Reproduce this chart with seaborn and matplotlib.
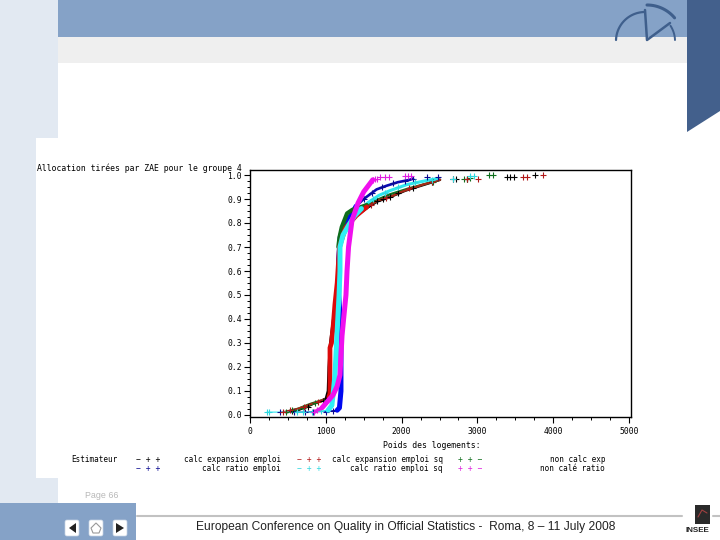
import matplotlib
matplotlib.use("Agg")
import matplotlib.pyplot as plt
from matplotlib.patches import Rectangle, Polygon, FancyBboxPatch
from matplotlib.ticker import MultipleLocator, FormatStrFormatter
import numpy as np
import pandas as pd
import seaborn as sns

# ---- data ----------------------------------------------------------------
title_text = "Allocation tirées par ZAE pour le groupe 4"
xlabel_text = "Poids des logements:"
x_ticks = [0, 1000, 2000, 3000, 4000, 5000]
y_ticks = [0.0, 0.1, 0.2, 0.3, 0.4, 0.5, 0.6, 0.7, 0.8, 0.9, 1.0]

# thick, densely overplotted part of each curve
black_band_x = [1000, 1030, 1040, 1060, 1100, 1150, 1170, 1180, 1260, 1400, 1540]
black_band_y = [0.065, 0.10, 0.20, 0.30, 0.40, 0.50, 0.60, 0.70, 0.78, 0.83, 0.862]
navy_band_x = [1150, 1180, 1200, 1200, 1190, 1170, 1170, 1190, 1250, 1330, 1400]
navy_band_y = [0.02, 0.03, 0.10, 0.30, 0.40, 0.50, 0.65, 0.74, 0.80, 0.83, 0.87]
red_band_x = [1040, 1055, 1055, 1075, 1100, 1120, 1150, 1180, 1260, 1400, 1540]
red_band_y = [0.075, 0.09, 0.28, 0.30, 0.38, 0.46, 0.55, 0.70, 0.78, 0.83, 0.867]
green_band_x = [1165, 1180, 1210, 1280, 1350, 1450, 1540]
green_band_y = [0.70, 0.74, 0.783, 0.84, 0.855, 0.865, 0.875]
cyan_band_x = [1030, 1080, 1095, 1121, 1147, 1175, 1187, 1187, 1227, 1300, 1380, 1470]
cyan_band_y = [0.02, 0.04, 0.083, 0.167, 0.33, 0.50, 0.60, 0.70, 0.75, 0.79, 0.83, 0.86]
magenta_band_x = [950, 1095, 1150, 1187, 1214, 1235, 1266, 1280, 1300, 1345, 1425, 1500, 1620]
magenta_band_y = [0.03, 0.083, 0.12, 0.167, 0.33, 0.40, 0.50, 0.60, 0.70, 0.81, 0.883, 0.93, 0.98]

# medium-thick runs of plus signs on the lower and upper arms
black_low_x = [560, 640, 760, 860, 960, 1010]
black_low_y = [0.015, 0.02, 0.035, 0.05, 0.06, 0.07]
black_up_x = [1540, 1680, 1847, 2050, 2282, 2507]
black_up_y = [0.862, 0.89, 0.908, 0.935, 0.958, 0.98]
navy_low_x = [400, 720, 1000, 1150]
navy_low_y = [0.012, 0.012, 0.015, 0.02]
navy_up_x = [1400, 1500, 1670, 1800, 1950, 2110, 2150]
navy_up_y = [0.87, 0.90, 0.94, 0.955, 0.97, 0.98, 0.985]
red_low_x = [440, 620, 800, 900, 1040]
red_low_y = [0.012, 0.025, 0.045, 0.055, 0.075]
red_up_x = [1540, 1700, 1847, 2000, 2282, 2507]
red_up_y = [0.867, 0.895, 0.908, 0.93, 0.96, 0.98]
green_low_x = [480, 640, 800, 900, 1000, 1060]
green_low_y = [0.012, 0.025, 0.045, 0.055, 0.065, 0.075]
green_up_x = [1540, 1700, 1850, 2100, 2280, 2500]
green_up_y = [0.875, 0.90, 0.92, 0.945, 0.96, 0.98]
cyan_low_x = [224, 620, 820, 1030]
cyan_low_y = [0.012, 0.012, 0.012, 0.02]
cyan_up_x = [1470, 1557, 1700, 1847, 2070, 2300, 2467]
cyan_up_y = [0.86, 0.885, 0.915, 0.935, 0.96, 0.975, 0.985]
magenta_low_x = [850, 890, 950]
magenta_low_y = [0.012, 0.02, 0.03]

# individual observations shown as plus signs
black_x = [560, 760, 960, 1680, 1760, 1847, 1950, 2150, 2400, 2680, 2720, 2860, 3390, 3430, 3480, 3760]
black_y = [0.015, 0.035, 0.06, 0.89, 0.90, 0.908, 0.925, 0.945, 0.97, 0.982, 0.985, 0.985, 0.99, 0.99, 0.99, 0.998]
navy_x = [400, 580, 720, 830, 1000, 1100, 1500, 1610, 1740, 1880, 2040, 2150, 2340, 2480]
navy_y = [0.012, 0.012, 0.012, 0.012, 0.012, 0.015, 0.90, 0.925, 0.95, 0.965, 0.975, 0.985, 0.99, 0.99]
red_x = [440, 530, 710, 900, 1600, 1800, 2100, 2400, 2860, 3010, 3600, 3650, 3865]
red_y = [0.012, 0.02, 0.035, 0.055, 0.875, 0.905, 0.945, 0.97, 0.985, 0.985, 0.99, 0.99, 0.998]
cyan_x = [224, 250, 620, 700, 820, 940, 1620, 1780, 1950, 2180, 2400, 2680, 2900, 2950]
cyan_y = [0.012, 0.012, 0.012, 0.012, 0.012, 0.015, 0.90, 0.925, 0.95, 0.97, 0.98, 0.985, 0.995, 0.995]
green_x = [480, 560, 700, 860, 1000, 2420, 2820, 2860, 2900, 3150, 3200]
green_y = [0.012, 0.02, 0.03, 0.05, 0.065, 0.972, 0.985, 0.985, 0.988, 0.998, 0.998]
magenta_x = [850, 890, 1620, 1650, 1680, 1720, 1780, 1835, 2050, 2085, 2120]
magenta_y = [0.012, 0.02, 0.98, 0.982, 0.985, 0.99, 0.99, 0.992, 0.995, 0.997, 0.995]

series_names = ["calc expansion emploi", "calc ratio emploi", "calc expansion emploi sq",
                "calc ratio emploi sq", "non calc exp", "non calé ratio"]
band_xs = [black_band_x, navy_band_x, red_band_x, cyan_band_x, green_band_x, magenta_band_x]
band_ys = [black_band_y, navy_band_y, red_band_y, cyan_band_y, green_band_y, magenta_band_y]
low_xs = [black_low_x, navy_low_x, red_low_x, cyan_low_x, green_low_x, magenta_low_x]
low_ys = [black_low_y, navy_low_y, red_low_y, cyan_low_y, green_low_y, magenta_low_y]
up_xs = [black_up_x, navy_up_x, red_up_x, cyan_up_x, green_up_x]
up_ys = [black_up_y, navy_up_y, red_up_y, cyan_up_y, green_up_y]
mark_xs = [black_x, navy_x, red_x, cyan_x, green_x, magenta_x]
mark_ys = [black_y, navy_y, red_y, cyan_y, green_y, magenta_y]
# drawing order: black, blue, green, red, cyan, magenta
draw_names = ["calc expansion emploi", "calc ratio emploi", "non calc exp",
              "calc expansion emploi sq", "calc ratio emploi sq", "non calé ratio"]
band_colors = ["#000000", "#0008f0", "#0e6e1c", "#dc0a0a", "#2ff0f5", "#f010ee"]
arm_colors = ["#000000", "#0a0ab0", "#0e6e1c", "#a82a18", "#2fe8ee", "#e020e0"]
mark_colors = ["#000000", "#0a0a90", "#0e6e1c", "#b01818", "#2fd8e0", "#e020e0"]
band_widths = [2.0, 3.6, 3.0, 3.4, 3.6, 3.6]
low_widths = [1.4, 0.8, 2.2, 1.4, 0.8, 2.5]
up_widths = [1.8, 1.9, 1.6, 1.6, 2.2, 0]

# ---- figure --------------------------------------------------------------
sns.set_theme(style="white")
plt.rcParams["font.family"] = ["DejaVu Sans"]
W, H = 720, 540
fig = plt.figure(figsize=(7.2, 5.4), dpi=100, facecolor="white")

bg = fig.add_axes([0, 0, 1, 1], zorder=0)
bg.set_xlim(0, W)
bg.set_ylim(H, 0)
bg.axis("off")

def box(x0, y0, x1, y1, c, **k):
    bg.add_patch(Rectangle((x0, y0), x1 - x0, y1 - y0, fc=c, ec="none", **k))

LIGHT, BLUE, DARK = "#e2e9f2", "#85a2c7", "#43608c"
box(0, 0, 58, 138, LIGHT)
box(0, 138, 36, 478, LIGHT)
box(0, 478, 58, 503, LIGHT)
box(58, 0, 687, 37, BLUE)
box(58, 37, 687, 63, "#efefef")
bg.add_patch(Polygon([(687, 0), (720, 0), (720, 111), (687, 132)], fc=DARK, ec="none"))
box(0, 503, 136, 540, BLUE)

# corner logo
def arc(cx, cy, r, a0, a1):
    t = np.radians(np.linspace(a0, a1, 40))
    return cx + r * np.cos(t), cy - r * np.sin(t)

logo = "#3f5f8c"
bg.plot(*arc(645, 41, 29, 92, 178), color=logo, lw=1.6)
bg.plot(*arc(647, 41, 36, 40, 90), color=logo, lw=2.2)
bg.plot(*arc(647, 41, 28, 2, 33), color=logo, lw=1.4)
bg.plot([645, 647, 670], [10, 40, 23], color=logo, lw=1.8)

# footer
bg.plot([137, 682], [516, 516], color="#c2c2c2", lw=1.5)
bg.plot([713, 720], [516, 516], color="#c2c2c2", lw=1.5)
bg.text(85, 495, "Page 66", fontsize=6.4, color="#b8b8b8", family="Liberation Sans", va="center")
bg.text(196, 527, "European Conference on Quality in Official Statistics -  Roma, 8 – 11 July 2008",
        fontsize=8.65, color="#222222", family="Liberation Sans", va="center")
for x0, pts in [(64, [(76, 523), (76, 533), (69, 528)]), (112, [(116, 523), (116, 533), (124, 528)])]:
    bg.add_patch(FancyBboxPatch((x0 + 1, 520), 14, 16, boxstyle="round,pad=0,rounding_size=2", fc="white", ec="#c8d4e4", lw=.5))
    bg.add_patch(Polygon(pts, fc="#222222", ec="none"))
bg.add_patch(FancyBboxPatch((89, 520), 14, 16, boxstyle="round,pad=0,rounding_size=2", fc="white", ec="#c8d4e4", lw=.5))
bg.add_patch(Polygon([(91, 528), (96, 523), (101, 528), (99, 533), (93, 533)], fc="white", ec="#999999", lw=.8))
box(695, 505, 710, 524, "#2a2a2a")
bg.plot([698, 702, 707], [517, 510, 513], color="#a04040", lw=.8)
bg.text(697, 530.5, "INSEE", fontsize=5.8, fontweight="bold", color="#222222",
        family="Liberation Sans", ha="center", va="center")

# chart axes: 0 -> px 250, 5000 -> px 629, 0.0 -> px 415, 1.0 -> px 175
left, right, top, bottom = 250, 631, 170, 417
ax = fig.add_axes([left / W, 1 - bottom / H, (right - left) / W, (bottom - top) / H], zorder=2)
ax.set_facecolor("white")

def frame(xs, ys, names):
    return pd.concat([pd.DataFrame({"x": x, "y": y, "serie": n})
                      for x, y, n in zip(xs, ys, names)])

band_df = frame(band_xs, band_ys, series_names)
low_df = frame(low_xs, low_ys, series_names)
up_df = frame(up_xs, up_ys, series_names)
mark_df = frame(mark_xs, mark_ys, series_names)

for i, (name, bc, ac, mc, lw, llw, ulw) in enumerate(zip(draw_names, band_colors, arm_colors, mark_colors,
                                                         band_widths, low_widths, up_widths)):
    sns.scatterplot(data=mark_df[mark_df["serie"] == name], x="x", y="y", marker="+", s=14,
                    linewidth=0.8, color=mc, ax=ax, zorder=3.6, legend=False)
    for df, width in ((low_df, llw), (up_df, ulw)):
        sub = df[df["serie"] == name]
        if len(sub):
            sns.lineplot(data=sub, x="x", y="y", sort=False, estimator=None, color=ac, lw=width,
                         ax=ax, zorder=3.5, legend=False)
    sns.lineplot(data=band_df[band_df["serie"] == name], x="x", y="y", sort=False, estimator=None,
                 color=bc, lw=lw, ax=ax, zorder=4 + i * 0.01, legend=False)

ax.set_xlim((left - 250) / 0.0758, (right - 250) / 0.0758)
ax.set_ylim((415 - bottom) / 240, (415 - top) / 240)
ax.set_xticks(x_ticks)
ax.set_yticks(y_ticks)
ax.xaxis.set_minor_locator(MultipleLocator(250))
ax.yaxis.set_minor_locator(MultipleLocator(0.025))
ax.yaxis.set_major_formatter(FormatStrFormatter("%.1f"))
ax.tick_params(axis="both", which="major", length=4, width=.8, color="black", direction="out",
               labelsize=5.8, labelcolor="black", left=True, bottom=True)
ax.tick_params(axis="x", which="major", pad=3)
ax.tick_params(axis="y", which="major", pad=2)
ax.tick_params(axis="both", which="minor", length=2, width=.7, color="black", direction="out", left=True, bottom=True)
for lab in ax.get_xticklabels() + ax.get_yticklabels():
    lab.set_family("DejaVu Sans Mono")
ax.set_xlabel("")
ax.set_ylabel("")
for s in ax.spines.values():
    s.set_visible(True)
    s.set_color("black")
    s.set_linewidth(1.0)

# text of the SAS page: title, x label and legend
mono = dict(family="DejaVu Sans Mono", color="black", va="center", zorder=5)
bg.text(37, 168, title_text, fontsize=5.9, **mono)
bg.text(432, 446, xlabel_text, ha="center", fontsize=5.9, **mono)
bg.text(71, 459.5, "Estimateur", fontsize=5.5, **mono)
legend_rows = [(459.5, series_names[0], "#000000", "− + +", 136, 281),
               (468.5, series_names[1], "#0a0a90", "− + +", 136, 281),
               (459.5, series_names[2], "#b01818", "− + +", 297, 443),
               (468.5, series_names[3], "#2fd8e0", "− + +", 297, 443),
               (459.5, series_names[4], "#0e6e1c", "+ + −", 458, 605),
               (468.5, series_names[5], "#e020e0", "+ + −", 458, 605)]
for y, name, col, sym, xs, xe in legend_rows:
    bg.text(xs, y, sym, family="DejaVu Sans Mono", fontsize=5.8, color=col, va="center")
    bg.text(xe, y, name, ha="right", fontsize=5.5, **mono)

fig.savefig("out.png", dpi=100)
